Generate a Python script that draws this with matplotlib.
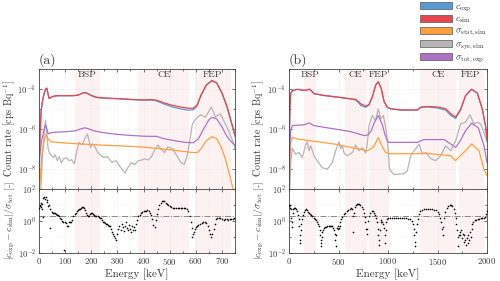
import numpy as np
import matplotlib
matplotlib.use("Agg")
import matplotlib.pyplot as plt
from matplotlib.patches import Patch
from matplotlib.ticker import FixedLocator, MultipleLocator, NullFormatter

plt.rcParams['font.family'] = 'serif'
plt.rcParams['font.serif'] = ['cmr10', 'DejaVu Serif']
plt.rcParams['mathtext.fontset'] = 'cm'
plt.rcParams['axes.formatter.use_mathtext'] = True
plt.rcParams['axes.unicode_minus'] = False

# ---------------- data (log10 of count rate) ----------------
# panel (a): 0-750 keV
ea_c = [0, 4, 8, 12, 16, 20, 25, 30, 34, 38, 42, 48, 55, 70, 100, 130, 150, 165, 175, 185, 200,
        220, 250, 300, 350, 400, 430, 450, 480, 510, 540, 570, 590, 605, 620, 640, 662, 680, 700,
        720, 735, 750]
csim_a = [-8.5, -6.2, -5.1, -4.7, -4.4, -4.2, -4.0, -3.95, -4.2, -4.45, -4.45, -4.4, -4.36, -4.33,
          -4.33, -4.33, -4.3, -4.22, -4.19, -4.22, -4.32, -4.41, -4.45, -4.48, -4.52, -4.55, -4.53,
          -4.56, -4.7, -4.82, -4.9, -4.96, -4.97, -4.8, -4.3, -3.8, -3.58, -3.7, -4.2, -4.9, -5.6, -6.3]
cexp_a = [-8.7, -6.4, -5.2, -4.75, -4.45, -4.22, -4.02, -3.97, -4.22, -4.47, -4.46, -4.41, -4.37,
          -4.34, -4.34, -4.34, -4.31, -4.21, -4.17, -4.21, -4.33, -4.43, -4.46, -4.49, -4.53, -4.56,
          -4.55, -4.6, -4.76, -4.9, -4.99, -5.06, -5.05, -4.85, -4.32, -3.8, -3.57, -3.69, -4.2,
          -4.92, -5.65, -6.4]

ea_p = [0, 10, 20, 25, 30, 35, 45, 60, 100, 140, 160, 175, 190, 210, 240, 300, 350, 400, 450, 480,
        520, 560, 590, 610, 630, 650, 662, 680, 700, 720, 740, 750]
tot_a = [-7.6, -6.6, -6.0, -5.8, -6.0, -6.25, -6.2, -6.17, -6.15, -6.1, -6.0, -5.95, -6.0, -6.1,
         -6.18, -6.28, -6.33, -6.37, -6.38, -6.5, -6.6, -6.68, -6.7, -6.5, -6.0, -5.55, -5.42, -5.5,
         -5.9, -6.4, -6.7, -6.85]

ea_o = [0, 10, 20, 27, 35, 45, 100, 160, 230, 300, 380, 450, 520, 580, 605, 620, 640, 662, 680,
        700, 715, 730, 742, 750]
stat_a = [-9.5, -7.4, -6.6, -6.26, -6.5, -6.65, -6.71, -6.76, -6.81, -6.85, -6.9, -6.98, -7.08,
          -7.18, -7.2, -7.0, -6.6, -6.39, -6.5, -7.0, -7.6, -8.35, -9.0, -9.5]

ea_g = [5, 15, 20, 25, 30, 35, 40, 45, 55, 62, 70, 78, 85, 95, 105, 115, 125, 135, 145, 153,
        165, 175, 185, 192, 197, 205, 212, 225, 247, 262, 279, 295, 310, 329, 340, 354, 365, 380,
        392, 405, 417, 430, 445, 455, 465, 474, 480, 493, 511, 525, 543, 556, 566, 574, 587, 600,
        618, 637, 660, 675, 694, 719, 744, 750]
sys_a = [-9.5, -7.0, -6.2, -5.58, -6.3, -7.0, -7.2, -7.3, -7.45, -7.3, -7.6, -7.4, -7.7, -7.5,
         -7.45, -7.6, -7.55, -7.75, -7.1, -6.68, -6.8, -6.5, -6.26, -6.6, -6.94, -6.75, -6.85, -7.2,
         -7.44, -7.4, -7.69, -7.6, -7.9, -8.23, -7.95, -7.69, -7.8, -7.6, -7.57, -7.5, -7.57, -7.4,
         -7.0, -6.81, -7.0, -7.1, -7.2, -6.9, -7.0, -7.3, -7.69, -7.78, -7.4, -6.84, -5.75, -5.5,
         -5.29, -5.41, -4.9, -5.41, -5.24, -5.92, -6.68, -7.0]

# |c_exp - c_sim| / sigma_tot, log10, panel (a)
ra_e = [0, 2, 4, 6, 8, 10, 12, 14, 17, 20, 23, 26, 29, 32, 35, 38, 41, 44, 48, 52, 56, 60, 64,
        68, 72, 76, 80, 84, 88, 92, 96, 100, 104, 108, 112, 116, 120, 124, 128, 132, 136, 140, 144,
        148, 152, 156, 160, 164, 168, 172, 176, 180, 184, 188, 192, 196, 200, 204, 208, 212, 216,
        220, 224, 228, 232, 236, 240, 244, 248, 252, 256, 260, 264, 268, 272, 276, 280, 284, 288,
        292, 296, 300, 304, 308, 312, 316, 320, 324, 328, 332, 336, 340, 344, 348, 352, 356, 360,
        364, 368, 372, 376, 380, 385, 390, 395, 400, 405, 410, 415, 420, 425, 430, 434, 438, 442,
        446, 450, 455, 460, 465, 470, 475, 480, 485, 490, 495, 500, 506, 512, 518, 524, 530, 536,
        542, 548, 554, 560, 566, 572, 577, 581, 584, 587, 590, 594, 598, 602, 606, 610, 616, 622,
        628, 634, 640, 645, 650, 655, 659, 663, 668, 673, 678, 683, 688, 694, 700, 706, 712, 718,
        724, 730, 736, 742, 748]
ra_v = [0.8, 1.0, 0.9, 1.1, 0.85, 0.75, 1.05, 0.25, 1.4, 1.45, 1.35, 1.45, 1.3, 1.15, 0.9, 0.95,
        -0.45, 0.7, 0.55, 0.5, 0.45, 0.5, 0.42, 0.38, 0.35, 0.3, 0.2, 0.1, 0.0, -0.1, -1.8, -0.05,
        -0.15, -0.3, -0.35, -0.1, -0.05, -0.1, 0.05, 0.3, 0.4, 0.5, 0.58, 0.65, 0.7, 0.75, 0.8,
        0.83, 0.85, 0.8, 0.65, 0.5, 0.35, 0.27, 0.3, 0.4, 0.48, 0.45, 0.4, 0.37, 0.32, 0.3, 0.27,
        0.25, 0.2, 0.17, 0.05, -0.05, -0.1, -0.15, -0.18, -0.22, -0.27, -0.3, -0.35, -0.5, -0.7,
        -0.85, -0.95, -1.1, -1.2, -0.8, -0.5, -0.3, -0.55, -0.2, -0.4, -0.65, -0.3, -0.1, -0.45,
        -0.6, -0.25, -0.5, -0.7, -0.35, -0.55, -0.4, -0.6, -0.2, 0.05, 0.27, 0.38, 0.45, 0.52,
        0.58, 0.6, 0.63, 0.65, 0.6, 0.5, 0.35, 0.1, -0.25, -0.37, 0.05, 0.4, 0.75, 1.0, 1.12, 1.2,
        1.23, 1.2, 1.12, 1.05, 0.95, 0.9, 0.85, 0.8, 0.8, 0.8, 0.8, 0.8, 0.8, 0.82, 0.8, 0.78,
        0.75, 0.6, 0.3, -0.1, -0.46, -1.0, -0.85, -0.7, -0.5, -0.4, -0.3, -0.25, -0.2, -0.16, -0.1,
        -0.06, -0.15, -0.35, -0.6, -0.85, -1.0, -0.8, -0.5, -0.2, 0.1, 0.2, 0.18, 0.15, 0.1, 0.05,
        0.08, 0.1, 0.05, 0.08, 0.1, 0.12, 0.15]

# panel (b): 0-2000 keV
eb_c = [0, 5, 10, 17, 34, 84, 152, 185, 202, 220, 253, 354, 488, 623, 673, 700, 724, 774, 808,
        842, 875, 902, 932, 960, 993, 1030, 1128, 1296, 1330, 1397, 1498, 1582, 1633, 1683, 1734,
        1784, 1845, 1902, 1952, 1986, 2000]
csim_b = [-9.5, -6.0, -4.8, -4.2, -4.08, -4.01, -4.06, -4.05, -4.01, -4.06, -4.23, -4.32, -4.4,
          -4.49, -4.52, -4.62, -4.74, -4.86, -4.78, -4.4, -3.81, -3.64, -3.97, -4.62, -4.91, -4.99,
          -5.05, -5.05, -4.91, -4.88, -4.9, -4.99, -5.24, -5.41, -5.0, -4.32, -4.01, -4.2, -5.0,
          -5.84, -6.5]
cexp_b = [-9.5, -6.1, -4.85, -4.22, -4.1, -4.02, -4.07, -4.05, -4.0, -4.06, -4.24, -4.33, -4.41,
          -4.5, -4.55, -4.68, -4.82, -4.92, -4.8, -4.4, -3.8, -3.63, -3.97, -4.63, -4.93, -5.0,
          -5.06, -5.06, -4.93, -4.9, -4.95, -5.06, -5.32, -5.48, -5.05, -4.33, -4.01, -4.2, -5.0,
          -5.9, -6.6]

eb_p = [0, 8, 17, 34, 84, 150, 202, 253, 350, 455, 623, 700, 758, 800, 830, 860, 902, 943, 970,
        993, 1010, 1150, 1296, 1363, 1450, 1566, 1633, 1683, 1730, 1784, 1845, 1912, 1969, 2000]
tot_b = [-9.5, -7.0, -6.1, -5.84, -5.82, -5.8, -5.7, -5.84, -5.92, -6.0, -6.14, -6.25, -6.34,
         -6.3, -6.1, -5.7, -5.33, -5.8, -6.3, -6.59, -6.68, -6.68, -6.68, -6.54, -6.54, -6.54,
         -6.76, -6.93, -6.6, -6.09, -5.72, -5.95, -6.84, -7.7]

eb_o = [0, 8, 17, 34, 84, 286, 455, 623, 791, 830, 860, 902, 943, 970, 993, 1010, 1296, 1363,
        1633, 1683, 1730, 1784, 1845, 1919, 1969, 2000]
stat_b = [-9.5, -7.5, -6.7, -6.43, -6.51, -6.65, -6.76, -6.93, -7.1, -7.0, -6.85, -6.43, -6.9,
          -7.15, -7.22, -7.25, -7.25, -7.22, -7.35, -7.6, -7.35, -7.1, -6.76, -7.1, -8.03, -8.35]

eb_g = [5, 17, 34, 67, 101, 135, 168, 185, 202, 219, 253, 286, 337, 387, 438, 471, 505, 522, 539,
        556, 589, 640, 673, 707, 741, 774, 790, 808, 842, 875, 902, 926, 953, 976, 1000, 1015,
        1060, 1100, 1162, 1195, 1229, 1276, 1313, 1347, 1380, 1431, 1481, 1532, 1582, 1633, 1683,
        1734, 1784, 1828, 1869, 1902, 1936, 1969, 2000]
sys_b = [-9.5, -7.69, -6.98, -7.27, -7.19, -7.44, -6.81, -6.65, -7.10, -6.85, -7.35, -7.61, -7.95,
         -8.03, -7.69, -7.10, -6.65, -7.0, -6.85, -7.22, -7.35, -7.19, -6.81, -7.10, -6.95, -7.22,
         -6.8, -5.84, -5.33, -5.58, -4.99, -5.5, -5.33, -5.92, -6.89, -8.03, -8.3, -8.28, -8.25,
         -8.11, -7.35, -7.02, -6.76, -7.27, -7.19, -7.49, -7.6, -7.35, -6.85, -7.1, -6.6, -5.75,
         -5.67, -5.29, -5.75, -5.67, -5.75, -6.17, -6.68]

rb_e = [0, 5, 10, 15, 20, 24, 28, 32, 36, 45, 55, 65, 75, 85, 95, 102, 106, 110, 113, 116, 120,
        125, 130, 140, 150, 160, 170, 180, 190, 200, 212, 224, 236, 248, 260, 272, 284, 294, 302,
        310, 316, 320, 324, 328, 332, 338, 346, 354, 364, 376, 388, 400, 412, 424, 436, 446, 455,
        462, 468, 472, 478, 484, 490, 498, 505, 512, 520, 530, 540, 555, 570, 585, 600, 615, 628,
        638, 645, 650, 656, 664, 674, 686, 698, 710, 722, 734, 746, 756, 764, 772, 780, 786, 792,
        800, 810, 822, 834, 846, 856, 866, 876, 886, 894, 900, 906, 912, 918, 926, 934, 944, 952,
        960, 966, 970, 976, 984, 992, 1005, 1025, 1045, 1065, 1085, 1105, 1125, 1145, 1165, 1185,
        1205, 1225, 1240, 1252, 1260, 1266, 1270, 1274, 1280, 1290, 1300, 1312, 1325, 1340, 1360,
        1380, 1400, 1420, 1440, 1460, 1480, 1500, 1515, 1528, 1538, 1546, 1552, 1558, 1566, 1578,
        1592, 1608, 1622, 1636, 1650, 1662, 1672, 1682, 1690, 1698, 1704, 1710, 1716, 1724, 1732,
        1740, 1748, 1756, 1764, 1772, 1780, 1788, 1796, 1804, 1812, 1820, 1828, 1836, 1844, 1852,
        1862, 1875, 1890, 1905, 1920, 1935, 1950, 1965, 1978, 1988, 1996]
rb_v = [1.0, 0.9, 0.8, 1.0, 0.7, 0.2, -0.1, -0.4, 0.5, 0.7, 0.8, 0.8, 0.75, 0.6, 0.35, 0.1, -0.3,
        -0.9, -1.2, -1.4, -0.6, -0.2, 0.1, 0.35, 0.55, 0.65, 0.7, 0.65, 0.55, 0.48, 0.4, 0.33,
        0.27, 0.2, 0.1, 0.05, -0.1, -0.2, -0.35, -0.6, -0.9, -1.2, -1.4, -1.6, -1.0, -0.7, -0.55,
        -0.45, -0.4, -0.4, -0.35, -0.3, -0.35, -0.3, -0.35, -0.45, -0.55, -0.8, -1.2, -1.6, -0.9,
        -0.45, -0.35, -0.5, -0.45, -0.3, -0.1, 0.1, 0.25, 0.4, 0.5, 0.6, 0.68, 0.75, 0.8, 0.75,
        0.3, -0.7, 0.5, 0.85, 0.95, 1.02, 1.06, 1.02, 0.95, 0.85, 0.7, 0.5, 0.25, -0.1, -0.5,
        -0.8, -0.5, 0.0, 0.3, 0.5, 0.6, 0.6, 0.5, 0.35, 0.15, -0.1, -0.5, -0.9, -1.2, -1.5, -0.6,
        -0.1, 0.05, -0.05, -0.2, -0.45, -0.9, -1.4, -0.6, -0.1, 0.1, 0.15, 0.15, 0.17, 0.15, 0.17,
        0.15, 0.17, 0.15, 0.17, 0.15, 0.12, 0.1, 0.0, -0.2, -0.5, -0.9, -1.3, -1.6, -0.7, -0.2,
        0.1, 0.4, 0.6, 0.68, 0.7, 0.7, 0.72, 0.7, 0.7, 0.68, 0.65, 0.55, 0.4, 0.2, -0.1, -0.5,
        -0.9, -0.4, 0.2, 0.55, 0.8, 0.92, 1.0, 1.0, 0.9, 0.7, 0.45, 0.2, -0.2, -0.6, -1.0, -1.6,
        -0.9, -0.7, -0.9, -0.6, -1.1, -0.8, -1.3, -0.9, -1.2, -1.5, -1.1, -1.4, -0.9, -1.2, -0.7,
        -1.0, -0.5, -0.2, -0.05, 0.05, 0.05, 0.1, 0.12, 0.15, 0.15, 0.2, 0.25, 0.4, 0.6]

# shaded regions and their labels
bands_a = [(136, 235), (377, 574), (597, 734)]
bands_b = [(152, 272), (566, 785), (808, 1000), (1320, 1690), (1715, 1965)]
names_a = [("BSP", 185), ("CE", 478), ("FEP", 662)]
names_b = [("BSP", 212), ("CE", 673), ("FEP", 902), ("CE", 1508), ("FEP", 1835)]

C_EXP = '#5b9bd5'
C_SIM = '#e8474f'
C_STAT = '#ffa040'
C_SYS = '#b5b5b5'
C_TOT = '#ad72c4'
TXT = '#3a3a3a'


def style_axes(ax):
    ax.tick_params(which='both', direction='in', top=True, right=True, colors=TXT,
                   labelsize=6.3, length=2.5, width=0.5, pad=2)
    ax.tick_params(which='minor', length=1.5)
    for s in ax.spines.values():
        s.set_color('#444444')
        s.set_linewidth(0.6)
    ax.grid(which='major', color='#dddddd', lw=0.4, ls=':')
    ax.grid(which='minor', color='#eeeeee', lw=0.3, ls=':')
    ax.set_axisbelow(True)


def draw_panel(top, bot, xmax, xmajor, xminor, bands, names, curves, re, rv, lab_x):
    for a, b in bands:
        top.axvspan(a, b, color='#fbe4e4', alpha=0.45, lw=0, zorder=0)
        bot.axvspan(a, b, color='#fbe4e4', alpha=0.45, lw=0, zorder=0)
    for e, v, c in curves:
        top.plot(e, np.power(10.0, v), color=c, lw=0.9)
    top.set_yscale('log')
    top.set_ylim(1e-9, 1e-3)
    top.yaxis.set_major_locator(FixedLocator([1e-8, 1e-6, 1e-4]))
    top.yaxis.set_minor_locator(FixedLocator([1e-9, 1e-7, 1e-5, 1e-3]))
    top.yaxis.set_minor_formatter(NullFormatter())
    for n, x in names:
        top.text(x, 10 ** -3.3, n, ha='center', va='center', fontsize=7, color=TXT)

    bot.scatter(re, np.power(10.0, rv), s=1.4, color='black', lw=0, zorder=3)
    bot.axhline(2, color='#888888', lw=0.7, ls='-.', zorder=2)
    bot.set_yscale('log')
    bot.set_ylim(1e-2, 1e2)
    bot.yaxis.set_major_locator(FixedLocator([1e-2, 1e0, 1e2]))
    bot.yaxis.set_minor_locator(FixedLocator([1e-1, 1e1]))
    bot.yaxis.set_minor_formatter(NullFormatter())

    for ax in (top, bot):
        ax.set_xlim(0, xmax)
        ax.xaxis.set_major_locator(MultipleLocator(xmajor))
        ax.xaxis.set_minor_locator(MultipleLocator(xminor))
        style_axes(ax)
    top.tick_params(labelbottom=False)
    top.set_ylabel(r'Count rate [cps Bq$^{-1}$]', fontsize=7.2, color=TXT)
    bot.set_ylabel(r'$|c_{\rm exp}-c_{\rm sim}|/\sigma_{\rm tot}$ [-]', fontsize=7, color=TXT)
    top.yaxis.set_label_coords(lab_x, 0.5)
    bot.yaxis.set_label_coords(lab_x, 0.5)
    bot.set_xlabel('Energy [keV]', fontsize=8, color=TXT, labelpad=1)


fig = plt.figure(figsize=(5.0, 2.81), dpi=100)
ax_a_top = fig.add_axes([0.078, 0.329, 0.392, 0.425])
ax_a_bot = fig.add_axes([0.078, 0.1, 0.392, 0.229])
ax_b_top = fig.add_axes([0.578, 0.329, 0.396, 0.425])
ax_b_bot = fig.add_axes([0.578, 0.1, 0.396, 0.229])

draw_panel(ax_a_top, ax_a_bot, 750, 100, 50, bands_a, names_a,
           [(ea_g, sys_a, C_SYS), (ea_o, stat_a, C_STAT), (ea_p, tot_a, C_TOT),
            (ea_c, cexp_a, C_EXP), (ea_c, csim_a, C_SIM)], ra_e, ra_v, -0.114)
draw_panel(ax_b_top, ax_b_bot, 2000, 500, 250, bands_b, names_b,
           [(eb_g, sys_b, C_SYS), (eb_o, stat_b, C_STAT), (eb_p, tot_b, C_TOT),
            (eb_c, cexp_b, C_EXP), (eb_c, csim_b, C_SIM)], rb_e, rb_v, -0.118)

fig.text(0.078, 1 - 60 / 281, '(a)', fontsize=10, color=TXT, va='center', ha='left')
fig.text(0.578, 1 - 60 / 281, '(b)', fontsize=10, color=TXT, va='center', ha='left')

handles = [Patch(facecolor=C_EXP, edgecolor='#555555', lw=0.5),
           Patch(facecolor=C_SIM, edgecolor='#555555', lw=0.5),
           Patch(facecolor=C_STAT, edgecolor='#555555', lw=0.5),
           Patch(facecolor=C_SYS, edgecolor='#555555', lw=0.5),
           Patch(facecolor=C_TOT, edgecolor='#555555', lw=0.5)]
labels = [r'$c_{\rm exp}$', r'$c_{\rm sim}$', r'$\sigma_{\rm stat,sim}$',
          r'$\sigma_{\rm sys,sim}$', r'$\sigma_{\rm tot,exp}$']
fig.legend(handles, labels, loc='upper left', bbox_to_anchor=(420 / 500, 1 - 2 / 281),
           frameon=False, fontsize=7, handlelength=3.3, handleheight=0.75,
           labelspacing=0.12, handletextpad=0.3, borderpad=0, borderaxespad=0,
           labelcolor=TXT)

fig.savefig('out.png', dpi=100)
